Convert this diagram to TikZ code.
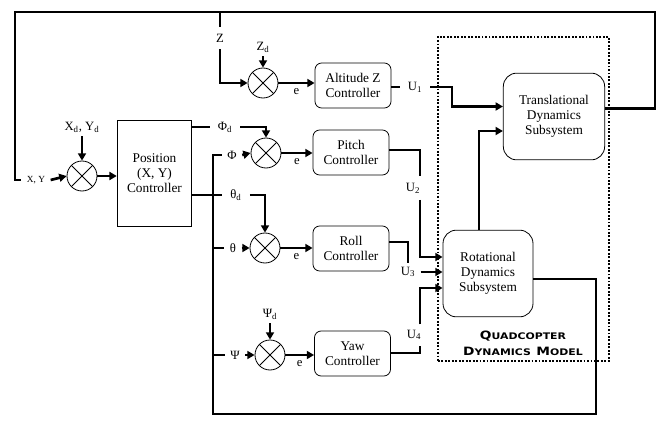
\documentclass[tikz,border=0pt]{standalone}
\usepackage{fontspec}
\setmainfont{Liberation Serif}
\newfontfamily\modelfont[FakeStretch=1.2]{DejaVu Sans}
\usetikzlibrary{positioning,calc,arrows.meta}
\newcommand{\fakesc}[2]{{\fontsize{8.6}{9}\selectfont #1}{\fontsize{6.8}{9}\selectfont #2}}

\tikzset{
  wire/.style={line width=2pt},
  sig/.style={line width=2pt,-{Triangle[length=5.5pt,width=6pt]}},
  ctrlbox/.style={draw,line width=0.6pt,rounded corners=5pt,minimum width=57pt,minimum height=33.75pt,align=center,inner sep=1pt,font=\fontsize{10}{11.3}\selectfont},
  dynbox/.style={draw,line width=0.6pt,rounded corners=10pt,minimum height=65pt,align=center,inner sep=1pt,font=\fontsize{10}{11.3}\selectfont},
  sumjn/.style={circle,draw,line width=0.6pt,minimum size=22.5pt,inner sep=0pt,
    path picture={\draw[line width=0.6pt] (path picture bounding box.north west) -- (path picture bounding box.south east)
      (path picture bounding box.north east) -- (path picture bounding box.south west);}},
  lbl/.style={inner xsep=4pt,inner ysep=3pt,font=\fontsize{9.5}{11}\selectfont},
}

\begin{document}
\begin{tikzpicture}[x=0.75pt,y=-0.75pt]
\useasboundingbox (0,0) rectangle (662,421);

%Blocos
\node[draw,line width=0.6pt,minimum width=56pt,minimum height=80pt,align=center,font=\fontsize{10}{11.3}\selectfont] (pos) at (154.5,173.5) {Position\\(X, Y)\\Controller};
\node[ctrlbox] (alt) at (353,85.5) {Altitude Z\\Controller};
\node[ctrlbox] (pitch) at (351,152.5) {Pitch\\Controller};
\node[ctrlbox] (roll) at (351,248.5) {Roll\\Controller};
\node[ctrlbox] (yaw) at (352.5,353.5) {Yaw\\Controller};
\node[dynbox,minimum width=76pt] (trans) at (554,116.5) {Translational\\Dynamics\\Subsystem};
\node[dynbox,minimum width=67.5pt] (rot) at (488,273.5) {Rotational\\Dynamics\\Subsystem};

%Modelo
\node[draw,line width=1.5pt,dash pattern=on 1.4pt off 1.2pt,minimum width=128.25pt,minimum height=243pt] (model) at (523.5,199) {};
\node[font=\modelfont\bfseries,align=center,inner sep=0pt] (lmodel) at (523,343) {\fakesc{Q}{UADCOPTER}\\\fakesc{D}{YNAMICS} \fakesc{M}{ODEL}};

%Somadores
\node[sumjn] (sumXY) at (82,176) {};
\node[sumjn] (sumZ) at (263,83) {};
\node[sumjn] (sumP) at (266,153) {};
\node[sumjn] (sumR) at (265,248) {};
\node[sumjn] (sumY) at (270,355) {};

%Labels
\node[lbl,font=\scriptsize] (lXY) at (36,180) {X, Y};
\node[lbl] (lXYd) at (82,127) {X\textsubscript{d}, Y\textsubscript{d}};
\node[lbl,inner ysep=5pt] (lZ) at (220,38) {Z};
\node[lbl] (lZd) at (263,47) {Z\textsubscript{d}};
\node[lbl,inner xsep=6pt] (lPhid) at (225,127) {Φ\textsubscript{d}};
\node[lbl] (lPhi) at (232,155) {Φ};
\node[lbl,inner xsep=6pt] (lThd) at (236,195) {θ\textsubscript{d}};
\node[lbl] (lTh) at (233,248) {θ};
\node[lbl] (lPsid) at (270,314) {Ψ\textsubscript{d}};
\node[lbl] (lPsi) at (235,355) {Ψ};
\node[lbl,inner xsep=6pt] (lU1) at (415,87) {U\textsubscript{1}};
\node[lbl,inner ysep=5pt] (lU2) at (413,188) {U\textsubscript{2}};
\node[lbl] (lU3) at (408,272) {U\textsubscript{3}};
\node[lbl,inner ysep=4pt] (lU4) at (414,335) {U\textsubscript{4}};

%Realimentacao X, Y e Z
\coordinate (fbTR) at (655,12);
\coordinate (fbTL) at (15,12);
\draw[wire] ($(trans.east)+(0,-8)$) -| (fbTR) -- (fbTL) |- (lXY.west);
\draw[sig] (lXY.east) -- (sumXY.west);
\draw[sig] (lXYd.south) -- (sumXY.north);
\draw[sig] (sumXY.east) -- (sumXY.east -| pos.west);
\draw[wire] (lZ |- fbTL) -- (lZ.north);
\draw[sig] (lZ.south) |- (sumZ.west);
\draw[sig] (lZd.south) -- (sumZ.north);
\draw[sig] (sumZ.east) -- node[lbl,below]{e} (sumZ.east -| alt.west);

%U1
\coordinate (u1k) at (452,87);
\draw[wire] (alt.east |- lU1) -- (lU1.west);
\draw[sig] (lU1.east) -- (u1k) |- ($(trans.west)+(0,-10)$);

%Pitch
\draw[wire] (pos.east |- lPhid) -- (lPhid.west);
\draw[sig] (lPhid.east) -| (sumP.north);
\draw[sig] (lPhi.east) -- (sumP.west);
\draw[sig] (sumP.east) -- node[lbl,below]{e} (sumP.east -| pitch.west);
\coordinate (u2a) at (420,150);
\draw[wire] (pitch.east |- u2a) -- (u2a) -- (u2a |- lU2.north);
\draw[sig] (u2a |- lU2.south) |- ($(rot.west)+(0,-16.5)$);

%Roll
\draw[wire] (pos.east |- lThd) -- (lThd.west);
\draw[sig] (lThd.east) -| (sumR.north);
\draw[sig] (lTh.east) -- (sumR.west);
\draw[sig] (sumR.east) -- node[lbl,below]{e} (sumR.east -| roll.west);
\coordinate (u3a) at (408,242);
\draw[wire] (roll.east |- u3a) -- (u3a) -- (u3a |- lU3.north);
\draw[sig] (lU3.east) -- (lU3.east -| rot.west);

%Yaw
\draw[sig] (lPsid.south) -- (sumY.north);
\draw[sig] (lPsi.east) -- (sumY.west);
\draw[sig] (sumY.east) -- node[lbl,below]{e} (sumY.east -| yaw.west);
\coordinate (u4a) at (420,353);
\draw[wire] (yaw.east |- u4a) -- (u4a) -- (u4a |- lU4.south);
\draw[sig] (u4a |- lU4.north) |- ($(rot.west)+(0,14.5)$);

%Rotacional -> Translacional
\draw[sig] ($(rot.north)+(-9,0)$) |- ($(trans.west)+(0,14.5)$);

%Realimentacao angulos
\coordinate (fbBR) at (596,414);
\coordinate (fbBL) at (213,414);
\draw[wire] ($(rot.east)+(0,5.5)$) -| (fbBR) -- (fbBL) |- (lPhi.west);
\draw[wire] (fbBL |- lTh) -- (lTh.west);
\draw[wire] (fbBL |- lPsi) -- (lPsi.west);
\end{tikzpicture}
\end{document}
